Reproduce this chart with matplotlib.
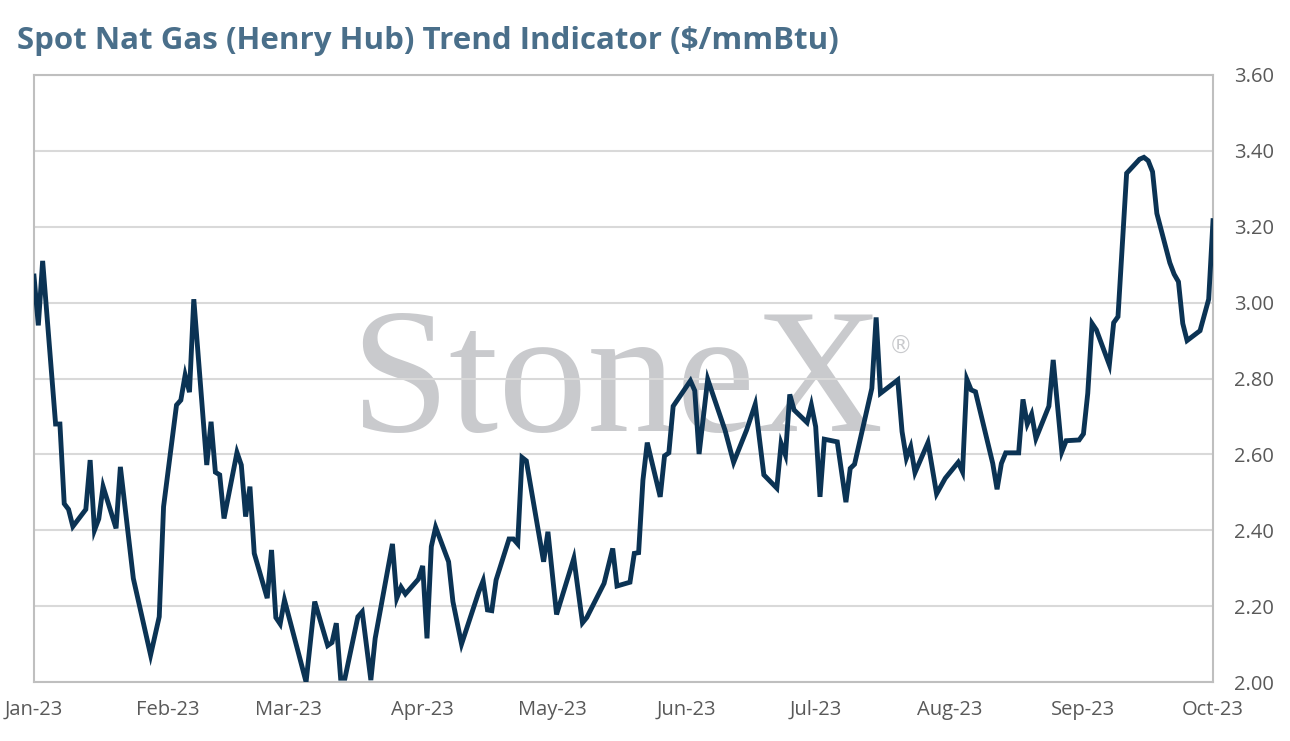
import matplotlib
matplotlib.use("Agg")
import matplotlib.pyplot as plt
import matplotlib.dates as mdates
import numpy as np
import pandas as pd

dates = [
    "2023-01-01", "2023-01-02", "2023-01-03", "2023-01-06", "2023-01-07", "2023-01-08",
    "2023-01-09", "2023-01-10", "2023-01-13", "2023-01-14", "2023-01-15", "2023-01-16",
    "2023-01-17", "2023-01-20", "2023-01-21", "2023-01-24", "2023-01-28", "2023-01-30",
    "2023-01-31", "2023-02-03", "2023-02-04", "2023-02-05", "2023-02-06", "2023-02-07",
    "2023-02-10", "2023-02-11", "2023-02-12", "2023-02-13", "2023-02-14", "2023-02-17",
    "2023-02-18", "2023-02-19", "2023-02-20", "2023-02-21", "2023-02-24", "2023-02-25",
    "2023-02-26", "2023-02-27", "2023-02-28", "2023-03-05", "2023-03-07", "2023-03-10",
    "2023-03-11", "2023-03-12", "2023-03-13", "2023-03-14", "2023-03-17", "2023-03-18",
    "2023-03-20", "2023-03-21", "2023-03-25", "2023-03-26", "2023-03-27", "2023-03-28",
    "2023-03-31", "2023-04-01", "2023-04-02", "2023-04-03", "2023-04-04", "2023-04-07",
    "2023-04-08", "2023-04-10", "2023-04-14", "2023-04-15", "2023-04-16", "2023-04-17",
    "2023-04-18", "2023-04-21", "2023-04-22", "2023-04-23", "2023-04-24", "2023-04-25",
    "2023-04-29", "2023-04-30", "2023-05-02", "2023-05-06", "2023-05-08", "2023-05-09",
    "2023-05-13", "2023-05-15", "2023-05-16", "2023-05-19", "2023-05-20", "2023-05-21",
    "2023-05-22", "2023-05-23", "2023-05-26", "2023-05-27", "2023-05-28", "2023-05-29",
    "2023-06-02", "2023-06-03", "2023-06-04", "2023-06-06", "2023-06-10", "2023-06-12",
    "2023-06-15", "2023-06-17", "2023-06-19", "2023-06-22", "2023-06-23", "2023-06-24",
    "2023-06-25", "2023-06-26", "2023-06-29", "2023-06-30", "2023-07-01", "2023-07-02",
    "2023-07-03", "2023-07-06", "2023-07-08", "2023-07-09", "2023-07-10", "2023-07-14",
    "2023-07-15", "2023-07-16", "2023-07-20", "2023-07-21", "2023-07-22", "2023-07-23",
    "2023-07-24", "2023-07-27", "2023-07-29", "2023-07-31", "2023-08-03", "2023-08-04",
    "2023-08-05", "2023-08-06", "2023-08-07", "2023-08-11", "2023-08-12", "2023-08-13",
    "2023-08-14", "2023-08-17", "2023-08-18", "2023-08-19", "2023-08-20", "2023-08-21",
    "2023-08-24", "2023-08-25", "2023-08-27", "2023-08-28", "2023-08-31", "2023-09-01",
    "2023-09-02", "2023-09-03", "2023-09-04", "2023-09-07", "2023-09-08", "2023-09-09",
    "2023-09-11", "2023-09-14", "2023-09-15", "2023-09-16", "2023-09-17", "2023-09-18",
    "2023-09-21", "2023-09-22", "2023-09-23", "2023-09-24", "2023-09-25", "2023-09-28",
    "2023-09-29", "2023-09-30", "2023-10-01",
]

prices = [
    3.07, 2.94, 3.11, 2.68, 2.68, 2.47,
    2.455, 2.41, 2.455, 2.585, 2.40, 2.43,
    2.515, 2.405, 2.567, 2.273, 2.071, 2.172,
    2.462, 2.73, 2.743, 2.809, 2.764, 3.009,
    2.572, 2.686, 2.553, 2.546, 2.431, 2.605,
    2.572, 2.436, 2.515, 2.339, 2.221, 2.348,
    2.170, 2.153, 2.216, 2.00, 2.212, 2.096,
    2.104, 2.155, 2.010, 2.010, 2.172, 2.185,
    2.005, 2.115, 2.364, 2.221, 2.250, 2.232,
    2.271, 2.306, 2.115, 2.357, 2.408, 2.317,
    2.212, 2.100, 2.238, 2.267, 2.190, 2.188,
    2.269, 2.377, 2.377, 2.364, 2.592, 2.583,
    2.317, 2.396, 2.178, 2.326, 2.156, 2.170,
    2.260, 2.352, 2.253, 2.263, 2.339, 2.341,
    2.532, 2.631, 2.488, 2.596, 2.604, 2.727,
    2.794, 2.768, 2.601, 2.798, 2.664, 2.579,
    2.664, 2.732, 2.546, 2.511, 2.629, 2.598,
    2.758, 2.717, 2.684, 2.730, 2.673, 2.488,
    2.640, 2.633, 2.474, 2.563, 2.574, 2.774,
    2.961, 2.761, 2.796, 2.660, 2.590, 2.620,
    2.552, 2.631, 2.496, 2.537, 2.579, 2.554,
    2.798, 2.770, 2.765, 2.576, 2.508, 2.576,
    2.604, 2.604, 2.745, 2.680, 2.706, 2.642,
    2.727, 2.849, 2.607, 2.636, 2.638, 2.654,
    2.761, 2.945, 2.928, 2.836, 2.947, 2.963,
    3.341, 3.378, 3.383, 3.374, 3.345, 3.235,
    3.105, 3.075, 3.055, 2.945, 2.900, 2.926,
    2.967, 3.009, 3.216,
]

month_ticks = ["2023-01-01", "2023-02-01", "2023-03-01", "2023-04-01", "2023-05-01",
               "2023-06-01", "2023-07-01", "2023-08-01", "2023-09-01", "2023-10-01"]
y_ticks = [2.00, 2.20, 2.40, 2.60, 2.80, 3.00, 3.20, 3.40, 3.60]

title = "Spot Nat Gas (Henry Hub) Trend Indicator ($/mmBtu)"

plt.rcParams['font.family'] = ['Open Sans', 'DejaVu Sans']

x = pd.to_datetime(dates)
xt = pd.to_datetime(month_ticks)

fig = plt.figure(figsize=(12.9, 7.41), dpi=100)
ax = fig.add_axes([34 / 1290, 1 - 682 / 741, (1213 - 34) / 1290, (682 - 75) / 741])

ax.plot(x, prices, color="#0b3354", lw=3.5, solid_joinstyle="miter", zorder=3)

ax.set_xlim(xt[0], xt[-1])
ax.set_ylim(y_ticks[0], y_ticks[-1])
ax.set_yticks(y_ticks)
ax.set_yticklabels([f"{v:.2f}" for v in y_ticks])
ax.set_xticks(xt)
ax.xaxis.set_major_formatter(mdates.DateFormatter("%b-%y"))

ax.yaxis.tick_right()
ax.tick_params(axis="both", length=0, labelsize=14.5, labelcolor="#595959")
ax.tick_params(axis="y", pad=15)
ax.tick_params(axis="x", pad=13)
ax.grid(axis="y", color="#d9d9d9", lw=1.5, zorder=0)
for s in ax.spines.values():
    s.set_color("#bfbfbf")
    s.set_linewidth(1.5)

ax.text(0.494, 0.414, "StoneX", transform=ax.transAxes, fontsize=128,
        family="Liberation Serif", color="#c9cacd", ha="center", va="baseline", zorder=1)
ax.text(0.735, 0.553, "®", transform=ax.transAxes, fontsize=17,
        family="DejaVu Sans", color="#c9cacd", ha="center", va="center", zorder=1)

fig.text(17 / 1290, 1 - 49 / 741, title, fontsize=22.5, fontweight="bold",
         color="#4a6f8a", ha="left", va="baseline")

fig.savefig("out.png", dpi=100)
